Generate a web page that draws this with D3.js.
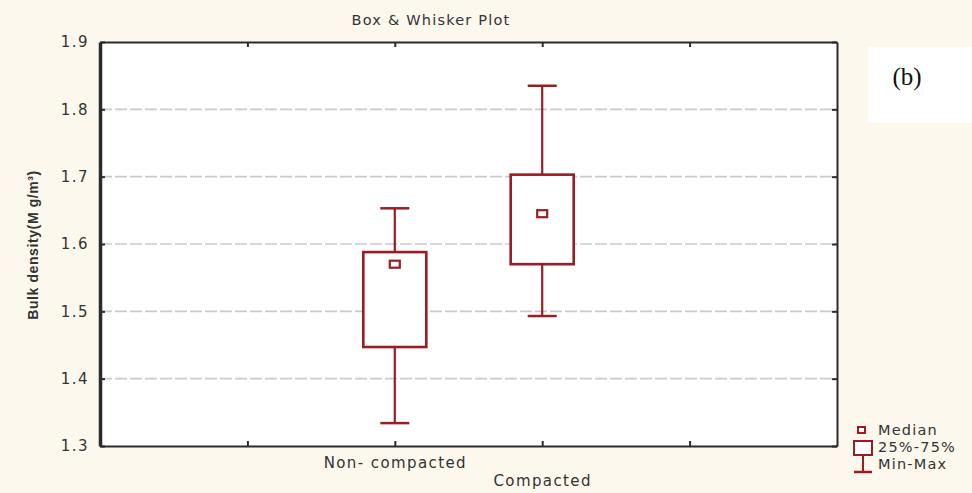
<!DOCTYPE html>
<html>
<head>
<meta charset="utf-8">
<script src="https://cdn.jsdelivr.net/npm/d3@7/dist/d3.min.js"></script>
<style>
  html, body { margin: 0; padding: 0; background: #fcf8ee; }
  svg { display: block; }
</style>
</head>
<body>
<svg id="chart" width="972" height="493"></svg>
<script>
// ---- data ----
const categories = ["Non- compacted", "Compacted"];
const minVals    = [1.334, 1.493];
const q1Vals     = [1.447, 1.570];
const medianVals = [1.570, 1.645];
const q3Vals     = [1.588, 1.703];
const maxVals    = [1.653, 1.835];
const yTicks     = [1.3, 1.4, 1.5, 1.6, 1.7, 1.8, 1.9];
const gridTicks  = [1.4, 1.5, 1.6, 1.7, 1.8];
const slots      = ["_a", categories[0], categories[1], "_b"];
const legendLabels = ["Median", "25%-75%", "Min-Max"];

const title = "Box & Whisker Plot";
const yTitle = "Bulk density(M g/m³)";

// ---- layout ----
const W = 972, H = 493;
const L = 100, R = 837, T = 42, B = 446;
const red = "#9c1c24";
const axisCol = "#2b2b2b";
const txtCol = "#333333";

const svg = d3.select("#chart");
svg.append("rect").attr("width", W).attr("height", H).attr("fill", "#fcf8ee");

const y = d3.scaleLinear().domain([1.3, 1.9]).range([B, T]);
const x = d3.scalePoint().domain(slots).range([L, R]).padding(1);

// plot area
svg.append("rect").attr("x", L).attr("y", T).attr("width", R - L).attr("height", B - T)
  .attr("fill", "#ffffff");

// gridlines
svg.append("g").selectAll("line").data(gridTicks).join("line")
  .attr("x1", L).attr("x2", R)
  .attr("y1", d => y(d)).attr("y2", d => y(d))
  .attr("stroke", "#cacaca").attr("stroke-width", 1.6)
  .attr("stroke-dasharray", "12,3");

// axes
const fontFam = "'DejaVu Sans', Arial, sans-serif";
const gLeft = svg.append("g").attr("transform", `translate(${L},0)`)
  .call(d3.axisLeft(y).tickValues(yTicks).tickFormat(d3.format(".1f"))
        .tickSizeInner(-5).tickSizeOuter(0).tickPadding(11));
const gRight = svg.append("g").attr("transform", `translate(${R},0)`)
  .call(d3.axisRight(y).tickValues(yTicks).tickFormat("")
        .tickSizeInner(-5).tickSizeOuter(0));
const gTop = svg.append("g").attr("transform", `translate(0,${T})`)
  .call(d3.axisTop(x).tickFormat("").tickSizeInner(-5).tickSizeOuter(0));
const gBottom = svg.append("g").attr("transform", `translate(0,${B})`)
  .call(d3.axisBottom(x).tickFormat(d => d.startsWith("_") ? "" : d)
        .tickSizeInner(-5).tickSizeOuter(0).tickPadding(0));

[gLeft, gRight, gTop, gBottom].forEach(g => {
  g.selectAll(".tick line").attr("stroke", axisCol).attr("stroke-width", 2);
  g.select(".domain").attr("stroke", axisCol).attr("stroke-width", 2);
});
gLeft.select(".domain").attr("stroke-width", 3.5);
gLeft.selectAll(".tick text")
  .attr("font-family", fontFam).attr("font-size", 15).attr("letter-spacing", 1.5)
  .attr("fill", txtCol);

gBottom.selectAll(".tick text")
  .attr("font-family", fontFam).attr("font-size", 15).attr("letter-spacing", 1.4)
  .attr("fill", txtCol)
  .attr("dy", null)
  .attr("y", (d) => d === categories[0] ? 22 : 40);

// title
svg.append("text").attr("x", 431).attr("y", 25).attr("text-anchor", "middle")
  .attr("font-family", fontFam).attr("font-size", 14.5).attr("letter-spacing", 1.2)
  .attr("fill", txtCol).text(title);

// y title
svg.append("text")
  .attr("transform", `translate(38,245) rotate(-90)`)
  .attr("text-anchor", "middle")
  .attr("font-family", "'Liberation Sans', Arial, sans-serif")
  .attr("font-weight", "bold").attr("font-size", 14).attr("letter-spacing", 0.6)
  .attr("fill", txtCol).text(yTitle);

// boxes
const boxW = 63, capW = 29, medW = 10, medH = 7;
const data = categories.map((c, i) => ({
  c, min: minVals[i], q1: q1Vals[i], med: medianVals[i], q3: q3Vals[i], max: maxVals[i]
}));
const gb = svg.append("g");
data.forEach(d => {
  const cx = x(d.c);
  gb.append("line").attr("x1", cx).attr("x2", cx).attr("y1", y(d.max)).attr("y2", y(d.q3))
    .attr("stroke", red).attr("stroke-width", 2.2);
  gb.append("line").attr("x1", cx).attr("x2", cx).attr("y1", y(d.q1)).attr("y2", y(d.min))
    .attr("stroke", red).attr("stroke-width", 2.2);
  gb.append("line").attr("x1", cx - capW / 2).attr("x2", cx + capW / 2)
    .attr("y1", y(d.max)).attr("y2", y(d.max)).attr("stroke", red).attr("stroke-width", 2.5);
  gb.append("line").attr("x1", cx - capW / 2).attr("x2", cx + capW / 2)
    .attr("y1", y(d.min)).attr("y2", y(d.min)).attr("stroke", red).attr("stroke-width", 2.5);
  gb.append("rect").attr("x", cx - boxW / 2).attr("y", y(d.q3))
    .attr("width", boxW).attr("height", y(d.q1) - y(d.q3))
    .attr("fill", "#ffffff").attr("stroke", red).attr("stroke-width", 2.6);
  gb.append("rect").attr("x", cx - medW / 2).attr("y", y(d.med) - medH / 2)
    .attr("width", medW).attr("height", medH)
    .attr("fill", "#ffffff").attr("stroke", red).attr("stroke-width", 2.2);
});

// (b) label
svg.append("rect").attr("x", 868).attr("y", 47).attr("width", 104).attr("height", 76)
  .attr("fill", "#ffffff");
svg.append("text").attr("x", 907).attr("y", 85).attr("text-anchor", "middle")
  .attr("font-family", "'Liberation Serif', 'Times New Roman', serif")
  .attr("font-size", 25).attr("fill", "#111").text("(b)");

// legend
const lg = svg.append("g");
lg.append("rect").attr("x", 858).attr("y", 427).attr("width", 7).attr("height", 6)
  .attr("fill", "#fff").attr("stroke", red).attr("stroke-width", 2);
lg.append("rect").attr("x", 854).attr("y", 441).attr("width", 18).attr("height", 14)
  .attr("fill", "#fff").attr("stroke", red).attr("stroke-width", 2);
lg.append("line").attr("x1", 863).attr("x2", 863).attr("y1", 456).attr("y2", 471)
  .attr("stroke", red).attr("stroke-width", 2);
lg.append("line").attr("x1", 854).attr("x2", 872).attr("y1", 472).attr("y2", 472)
  .attr("stroke", red).attr("stroke-width", 2.5);
const legY = [435, 452, 469];
lg.selectAll("text").data(legendLabels).join("text")
  .attr("x", 878).attr("y", (d, i) => legY[i])
  .attr("font-family", fontFam).attr("font-size", 14.5).attr("letter-spacing", 1.2)
  .attr("fill", txtCol).text(d => d);
</script>
</body>
</html>
